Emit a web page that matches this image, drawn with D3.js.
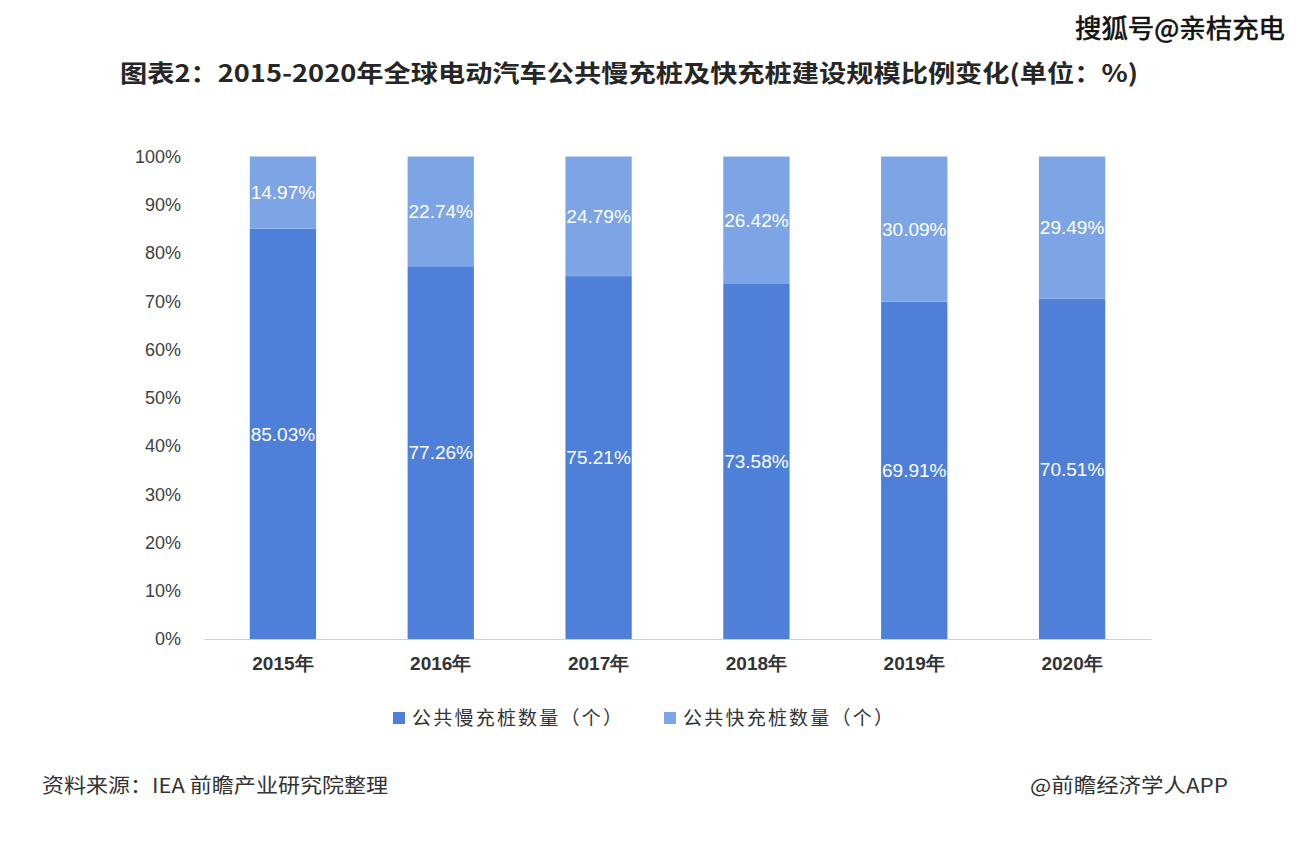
<!DOCTYPE html>
<html><head><meta charset="utf-8">
<script src="https://cdn.jsdelivr.net/npm/d3@7"></script>
<style>
html,body{margin:0;padding:0;background:#fff;}
svg{display:block;font-family:"Noto Sans CJK SC","Noto Sans",sans-serif;}
</style></head>
<body>
<svg id="chart" width="1316" height="858"></svg>
<script>
const categories = ["2015年","2016年","2017年","2018年","2019年","2020年"];
const slowValues = [85.03, 77.26, 75.21, 73.58, 69.91, 70.51];
const fastValues = [14.97, 22.74, 24.79, 26.42, 30.09, 29.49];
const seriesNames = ["公共慢充桩数量（个）","公共快充桩数量（个）"];
const yTicks = [0,10,20,30,40,50,60,70,80,90,100];
const titleText = "图表2：2015-2020年全球电动汽车公共慢充桩及快充桩建设规模比例变化(单位：%)";
const sourceText = "资料来源：IEA 前瞻产业研究院整理";
const creditText = "@前瞻经济学人APP";
const watermarkText = "搜狐号@亲桔充电";

const colors = ["#4f80d9", "#7da5e5"];
const svg = d3.select("#chart");

const x = d3.scaleBand().domain(categories).range([204, 1151]).paddingInner(0.58).paddingOuter(0.29);
const y = d3.scaleLinear().domain([0,100]).range([639, 156.5]);

// title
svg.append("text").attr("x",120).attr("y",82)
  .attr("font-size",24).attr("font-weight","bold").attr("fill","#262626")
  .attr("textLength",1018).attr("lengthAdjust","spacingAndGlyphs")
  .text(titleText);

// top-right watermark
svg.append("text").attr("x",1075).attr("y",38)
  .attr("font-size",26).attr("fill","#111")
  .attr("stroke","#111").attr("stroke-width",0.6)
  .attr("textLength",210).attr("lengthAdjust","spacingAndGlyphs")
  .text(watermarkText);

// y axis labels
const yAxis = d3.axisLeft(y).tickValues(yTicks).tickFormat(d => d + "%").tickSize(0).tickPadding(0);
const gy = svg.append("g").attr("transform","translate(181,0)").call(yAxis);
gy.select(".domain").remove();
gy.selectAll("text").attr("font-size",18).attr("fill","#404040").attr("font-family","'Liberation Sans',Arial,sans-serif");

// stacked data
const stacked = d3.stack().keys(["slow","fast"])(categories.map((c,i)=>({cat:c, slow:slowValues[i], fast:fastValues[i]})));

stacked.forEach((layer, li) => {
  const g = svg.append("g");
  g.selectAll("rect").data(layer).enter().append("rect")
    .attr("x", d => x(d.data.cat))
    .attr("width", x.bandwidth())
    .attr("y", d => y(d[1]))
    .attr("height", d => y(d[0]) - y(d[1]))
    .attr("fill", colors[li]);
  g.selectAll("text").data(layer).enter().append("text")
    .attr("x", d => x(d.data.cat) + x.bandwidth()/2)
    .attr("y", d => (y(d[0]) + y(d[1]))/2)
    .attr("dy","0.36em")
    .attr("text-anchor","middle")
    .attr("font-size",19).attr("fill","#fff")
    .attr("font-family","'Liberation Sans',Arial,sans-serif")
    .text(d => (d[1]-d[0]).toFixed(2) + "%");
});

// x axis
const xAxis = d3.axisBottom(x).tickSize(0).tickPadding(17);
const gx = svg.append("g").attr("transform","translate(0,639)").call(xAxis);
gx.select(".domain").attr("stroke","#d0d0d0").attr("stroke-width",1.2);
gx.selectAll("text").attr("font-size",19).attr("fill","#333").attr("font-weight","bold").attr("dy","0.75em");

// legend
const legendX = [393, 664];
seriesNames.forEach((n,i) => {
  svg.append("rect").attr("x",legendX[i]).attr("y",712).attr("width",12).attr("height",12).attr("fill",colors[i]);
  svg.append("text").attr("x",legendX[i]+19).attr("y",725)
    .attr("font-size",19).attr("fill","#333")
    .attr("textLength",210).attr("lengthAdjust","spacing")
    .text(n);
});

// footer
svg.append("text").attr("x",42).attr("y",793).attr("font-size",20).attr("fill","#333")
  .attr("textLength",346).attr("lengthAdjust","spacingAndGlyphs").text(sourceText);
svg.append("text").attr("x",1030).attr("y",793).attr("font-size",20).attr("fill","#333")
  .attr("textLength",198).attr("lengthAdjust","spacingAndGlyphs").text(creditText);
</script>
</body></html>
